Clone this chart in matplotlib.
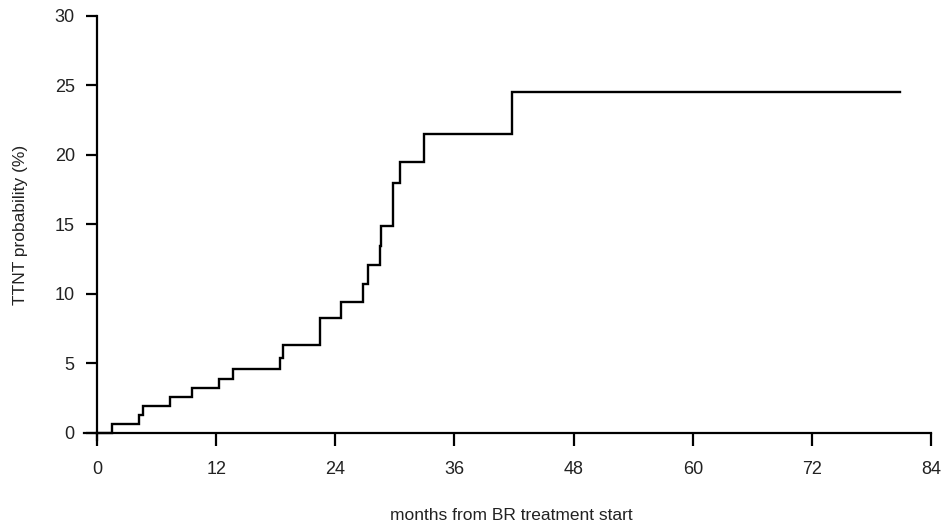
import matplotlib
matplotlib.use("Agg")
import matplotlib.pyplot as plt

plt.rcParams['font.family'] = ['Liberation Sans', 'DejaVu Sans']

# Cumulative incidence step curve (months, percent)
event_months = [0.0, 1.48, 4.26, 4.6, 7.35, 9.57, 12.25, 13.7, 18.4, 18.7,
                22.5, 24.6, 26.75, 27.25, 28.5, 28.65, 29.85, 30.5, 32.9, 41.76]
cum_prob = [0.0, 0.65, 1.29, 1.94, 2.59, 3.26, 3.86, 4.58, 5.37, 6.31,
            8.3, 9.45, 10.7, 12.06, 13.45, 14.9, 17.96, 19.47, 21.49, 24.53]
last_followup = 80.9

x_ticks = [0, 12, 24, 36, 48, 60, 72, 84]
y_ticks = [0, 5, 10, 15, 20, 25, 30]

fig = plt.figure(figsize=(9.48, 5.29), dpi=100)
ax = fig.add_axes([0.0866, 0.1658, 0.9008, 0.8119])

xs = event_months + [last_followup]
ys = cum_prob + [cum_prob[-1]]
ax.step(xs, ys, where='post', color='black', lw=1.7, solid_joinstyle='miter')

ax.set_xlim(-1.5, 84.5)
ax.set_ylim(-0.6, 30.3)

for s in ['top', 'right']:
    ax.spines[s].set_visible(False)
ax.spines['left'].set_position(('data', 0))
ax.spines['bottom'].set_position(('data', 0))
ax.spines['left'].set_bounds(-0.5, 30)
ax.spines['bottom'].set_bounds(-1.3, 84)
for s in ['left', 'bottom']:
    ax.spines[s].set_linewidth(1.6)

ax.set_xticks(x_ticks)
ax.set_yticks(y_ticks)
ax.tick_params(axis='x', direction='out', length=9, width=1.6, pad=11,
               labelsize=13, labelcolor='#222222')
ax.tick_params(axis='y', direction='out', length=8, width=1.6, pad=8,
               labelsize=13, labelcolor='#222222')

fig.text(0.5396, 0.026, 'months from BR treatment start', ha='center',
         va='center', fontsize=12.5, color='#222222')
fig.text(0.022, 0.575, 'TTNT probability (%)', ha='center', va='center',
         rotation=90, fontsize=12.5, color='#222222')

fig.savefig('out.png', dpi=100)
